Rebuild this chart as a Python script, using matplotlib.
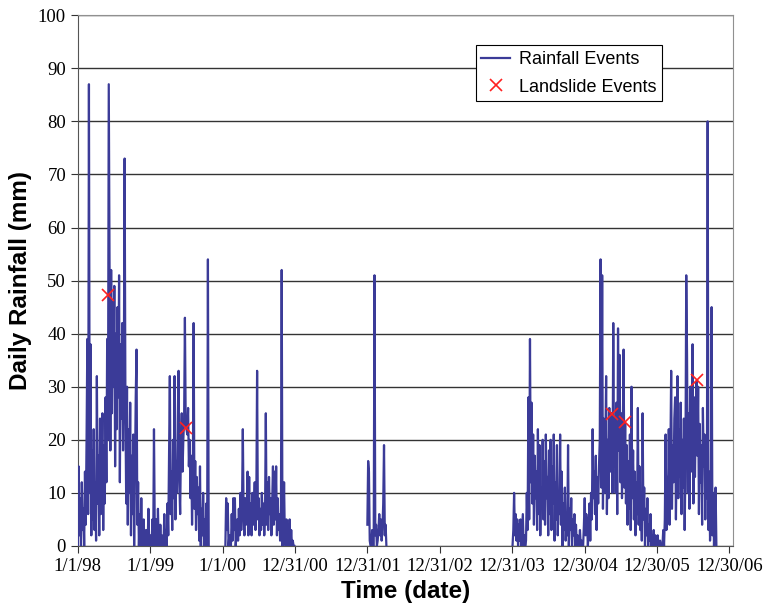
import numpy as np
import matplotlib
matplotlib.use('Agg')
import matplotlib.pyplot as plt

# days counted from 1/1/98, one reading every 4 days inside each wet spell
step = 4

start_98 = 0
rain_98 = [0, 15, 2, 9, 0, 12, 3, 7, 0, 14, 4, 20, 39, 6, 87, 10, 38, 2, 18, 5,
           22, 3, 12, 1, 32, 8, 17, 2, 24, 6, 14, 25, 3, 19, 8, 28, 12, 39, 20, 87,
           53, 18, 52, 25, 46, 30, 49, 15, 40, 22, 45, 28, 51, 12, 38, 24, 42, 18, 33, 73,
           26, 8, 30, 4, 22, 10, 27, 2, 17, 6, 21, 0, 13, 28, 37, 4, 12, 0, 6, 0,
           9, 0, 0, 5, 0, 0, 3, 0, 0, 7, 0, 0, 2, 0, 5, 0, 22, 3, 0, 5,
           0, 7, 0, 0, 4, 0, 2, 0, 0, 6, 0, 3, 0, 8, 2, 18, 32, 6, 14, 3,
           20, 9, 32, 5, 16, 10, 24, 33, 12, 6, 19, 25, 14, 20, 24, 43, 23, 22, 21, 26,
           15, 20, 9, 17, 4, 14, 42, 7, 16, 3, 13, 6, 11, 1, 15, 0, 7, 2, 10, 0,
           5, 0, 8, 0, 54, 0]

start_00 = 744
rain_00 = [0, 9, 3, 8, 0, 2, 0, 0, 6, 1, 9, 3, 9, 0, 2, 5, 1, 7, 2, 10,
           3, 8, 22, 6, 2, 9, 4, 7, 14, 2, 13, 3, 8, 2, 10, 4, 7, 12, 3, 8,
           33, 5, 9, 2, 7, 3, 10, 4, 8, 2, 6, 25, 4, 12, 3, 13, 6, 9, 2, 8,
           15, 4, 14, 5, 15, 2, 9, 3, 6, 1, 4, 52, 0, 3, 12, 1, 0, 5, 0, 4,
           0, 5, 0, 3, 0, 1, 0, 0]

start_02 = 1460
rain_02 = [4, 16, 14, 1, 0, 0, 3, 0, 0, 51, 2, 4, 0, 1, 3, 6, 2, 5, 1, 3,
           8, 19, 2, 4, 0]

start_04 = 2192
rain_04 = [0, 3, 10, 2, 6, 1, 5, 0, 4, 1,
           5, 0, 3, 6, 0, 2, 0, 1, 10, 3,
           28, 5, 39, 12, 27, 8, 21, 4, 17, 9,
           14, 3, 22, 6, 19, 2, 11, 7, 20, 5,
           16, 4, 21, 9, 13, 2, 18, 6, 20, 3,
           15, 8, 21, 1, 12, 5, 19, 2, 10, 6,
           21, 4, 14, 0, 8, 3, 11, 1, 6, 2,
           19, 0, 7, 3, 9, 0, 5, 2, 6, 0,
           4, 0, 2, 0, 0, 3, 0, 1, 0, 0,
           4, 9, 2, 6, 4, 0, 3, 8, 1, 10,
           5, 22, 9, 14, 6, 17, 3, 13, 8, 15,
           20, 54, 11, 51, 7, 24, 10, 18, 32, 6,
           20, 9, 26, 14, 22, 25, 10, 42, 15, 24,
           10, 27, 6, 41, 18, 36, 12, 25, 9, 20,
           37, 11, 23, 8, 19, 4, 16, 7, 21, 3,
           30, 9, 18, 5, 14, 2, 12, 6, 26, 4,
           15, 3, 10, 1, 25, 5, 11, 0, 7, 2,
           9, 0, 4, 1, 6, 0, 2, 0, 3, 0,
           2, 0, 0, 2, 0, 0, 1, 0, 0, 0,
           3, 0, 5, 21, 3, 13, 8, 22, 4, 17,
           33, 7, 19, 12, 24, 28, 5, 18, 32, 9,
           22, 13, 27, 6, 20, 11, 24, 3, 15, 51,
           36, 10, 25, 7, 30, 14, 22, 38, 8, 28,
           13, 26, 31, 17, 30, 6, 23, 12, 19, 4,
           26, 15, 21, 5, 18, 9, 80, 3, 14, 1,
           7, 45, 2, 10, 0, 6, 11, 0]

slide_days = [153, 547, 2692, 2759, 3124]
slide_rain = [47.3, 22.2, 24.8, 23.3, 31.3]

tick_days = [0, 365, 730, 1095, 1460, 1825, 2190, 2555, 2920, 3285]
tick_labels = ['1/1/98', '1/1/99', '1/1/00', '12/31/00', '12/31/01',
               '12/31/02', '12/31/03', '12/30/04', '12/30/05', '12/30/06']

# join wet spells, NaN breaks the line where there is no record
xs, ys = [], []
for start, vals in [(start_98, rain_98), (start_00, rain_00),
                    (start_02, rain_02), (start_04, rain_04)]:
    xs += list(start + step * np.arange(len(vals))) + [np.nan]
    ys += list(vals) + [np.nan]

fig = plt.figure(figsize=(7.63, 6.1), dpi=100)
ax = fig.add_axes([0.102, 0.105, 0.859, 0.870])

ax.plot(xs, ys, color='#3b3b98', lw=1.6, label='Rainfall Events', zorder=3)
ax.plot(slide_days, slide_rain, ls='none', marker='x', ms=8, mew=1.2,
        color='#ff2020', label='Landslide Events', zorder=4)

ax.set_ylim(0, 100)
ax.set_xlim(0, 3305)
ax.set_yticks(range(0, 101, 10))
ax.set_xticks(tick_days)
ax.set_xticklabels(tick_labels)
ax.yaxis.grid(True, color='#333333', lw=1.0)
ax.set_axisbelow(True)

for lab in ax.get_xticklabels() + ax.get_yticklabels():
    lab.set_family('Liberation Serif')
    lab.set_fontsize(13.5)
ax.tick_params(direction='out', length=5, color='#333333')

for s in ['top', 'right']:
    ax.spines[s].set_color('#909090')
ax.spines['left'].set_color('#555555')
ax.spines['bottom'].set_color('#555555')

ax.set_xlabel('Time (date)', family='Liberation Sans', fontweight='bold', fontsize=17.5)
ax.set_ylabel('Daily Rainfall (mm)', family='Liberation Sans', fontweight='bold', fontsize=17.5)

leg = ax.legend(loc='upper left', bbox_to_anchor=(0.607, 0.943), borderaxespad=0,
                frameon=True, fancybox=False, edgecolor='black', framealpha=1,
                prop={'family': 'Liberation Sans', 'size': 13},
                handlelength=1.6, handletextpad=0.5, borderpad=0.3,
                labelspacing=0.6)
leg.get_frame().set_linewidth(0.8)

fig.savefig('out.png', dpi=100)
